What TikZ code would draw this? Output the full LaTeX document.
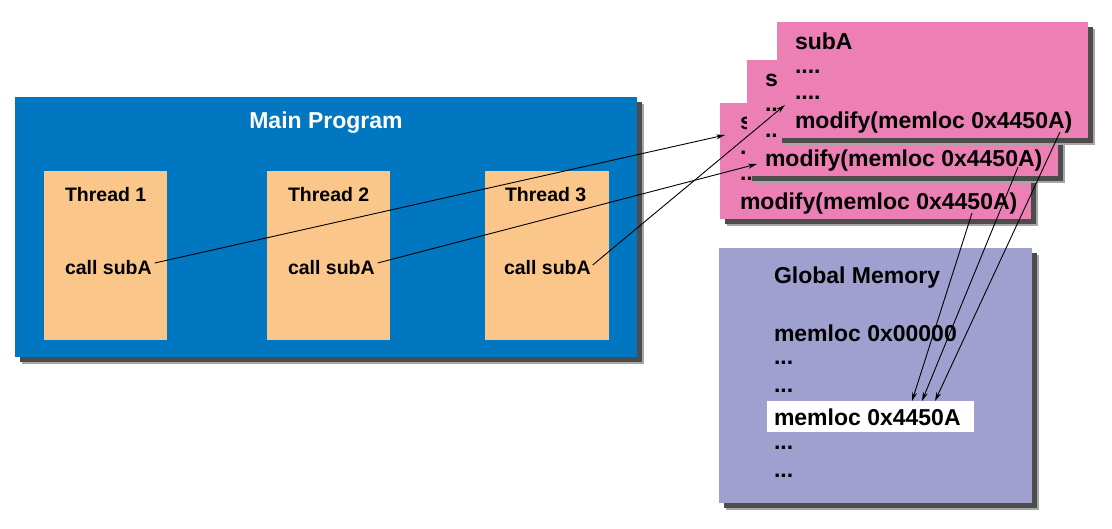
\documentclass[tikz,border=0pt]{standalone}
\usepackage{fontspec}
\setmainfont{Liberation Sans}
\usetikzlibrary{arrows.meta,shadows}
\definecolor{mainblue}{RGB}{0,119,192}
\definecolor{threadcol}{RGB}{251,198,138}
\definecolor{pinkbox}{RGB}{236,128,180}
\definecolor{memcol}{RGB}{160,160,208}
\begin{document}
\begin{tikzpicture}[x=1pt,y=-1pt,
  every node/.style={inner sep=0pt, outer sep=0pt},
  shad/.style={drop shadow={shadow xshift=7pt,shadow yshift=-7pt,fill=black!35,opacity=1},
               drop shadow={shadow xshift=5pt,shadow yshift=-5pt,fill=black!70,opacity=1}},
  blk/.style={anchor=north west},
  lbl/.style={font=\fontsize{23}{26}\selectfont\bfseries, anchor=west},
  tlbl/.style={font=\fontsize{19.5}{23}\selectfont\bfseries, anchor=west},
  arr/.style={draw=black, line width=0.9pt, -{Stealth[length=9pt,width=5pt]}}
]
\useasboundingbox (0,0) rectangle (1112,528);

% Main program
\node[blk, fill=mainblue, shad, minimum width=622pt, minimum height=260pt] (main) at (15,97) {};
\node[lbl, anchor=center, text=white] (mainlbl) at (326,123) {Main Program};

\node[blk, fill=threadcol, minimum width=123pt, minimum height=169pt] (t1) at (44,171) {};
\node[blk, fill=threadcol, minimum width=123pt, minimum height=169pt] (t2) at (267,171) {};
\node[blk, fill=threadcol, minimum width=124pt, minimum height=169pt] (t3) at (485,171) {};
\node[tlbl] (t1l) at (65,195) {Thread 1};
\node[tlbl] (t2l) at (288,195) {Thread 2};
\node[tlbl] (t3l) at (505,195) {Thread 3};
\node[tlbl] (c1) at (65,268) {call subA};
\node[tlbl] (c2) at (288,268) {call subA};
\node[tlbl] (c3) at (504,268) {call subA};

% subA copies (back, middle, front)
\node[blk, fill=pinkbox, shad, minimum width=311pt, minimum height=116pt] (pb) at (720,103) {};
\node[lbl] (pbs) at (740,121) {subA};
\node[lbl] (pbd1) at (740,153) {....};
\node[lbl] (pbd2) at (740,179) {....};
\node[lbl] (pbm) at (740,204) {modify(memloc 0x4450A)};

\node[blk, fill=pinkbox, shad, minimum width=311pt, minimum height=116pt] (pm) at (747,60) {};
\node[lbl] (pms) at (765,78) {subA};
\node[lbl] (pmd1) at (765,110) {....};
\node[lbl] (pmd2) at (765,136) {....};
\node[lbl] (pmm) at (765,161) {modify(memloc 0x4450A)};

\node[blk, fill=pinkbox, shad, minimum width=311pt, minimum height=116pt] (pf) at (777,22) {};
\node[lbl] (pfs) at (795,41) {subA};
\node[lbl] (pfd1) at (795,72) {....};
\node[lbl] (pfd2) at (795,98) {....};
\node[lbl] (pfm) at (795,123) {modify(memloc 0x4450A)};

% Global memory
\node[blk, fill=memcol, shad, minimum width=313pt, minimum height=255pt] (gm) at (719,248) {};
\node[lbl] (gml) at (774,278) {Global Memory};
\node[lbl] (m0) at (774,333) {memloc 0x00000};
\node[lbl] (md1) at (774,363) {...};
\node[lbl] (md2) at (774,391) {...};
\node[blk, fill=white, minimum width=207pt, minimum height=31pt] (m4box) at (767,401) {};
\node[lbl] (m4) at (774,417) {memloc 0x4450A};
\node[lbl] (md3) at (774,448) {...};
\node[lbl] (md4) at (774,476) {...};

% arrow end points
\coordinate (eb) at (725,135);
\coordinate (em) at (757,164);
\coordinate (ef) at (785,105);
\coordinate (sf) at (1060,132);
\coordinate (sm) at (1018,167);
\coordinate (sb) at (972,213);

\draw[arr] ([shift={(3,-5)}]c1.east) -- (eb);
\draw[arr] ([shift={(3,-5)}]c2.east) -- (em);
\draw[arr] ([shift={(2,-3)}]c3.east) -- (ef);
\draw[arr] (sb) -- ([xshift=41.5pt]m4box.north);
\draw[arr] (sm) -- ([xshift=51.5pt]m4box.north);
\draw[arr] (sf) -- ([xshift=64.5pt]m4box.north);
\end{tikzpicture}
\end{document}
